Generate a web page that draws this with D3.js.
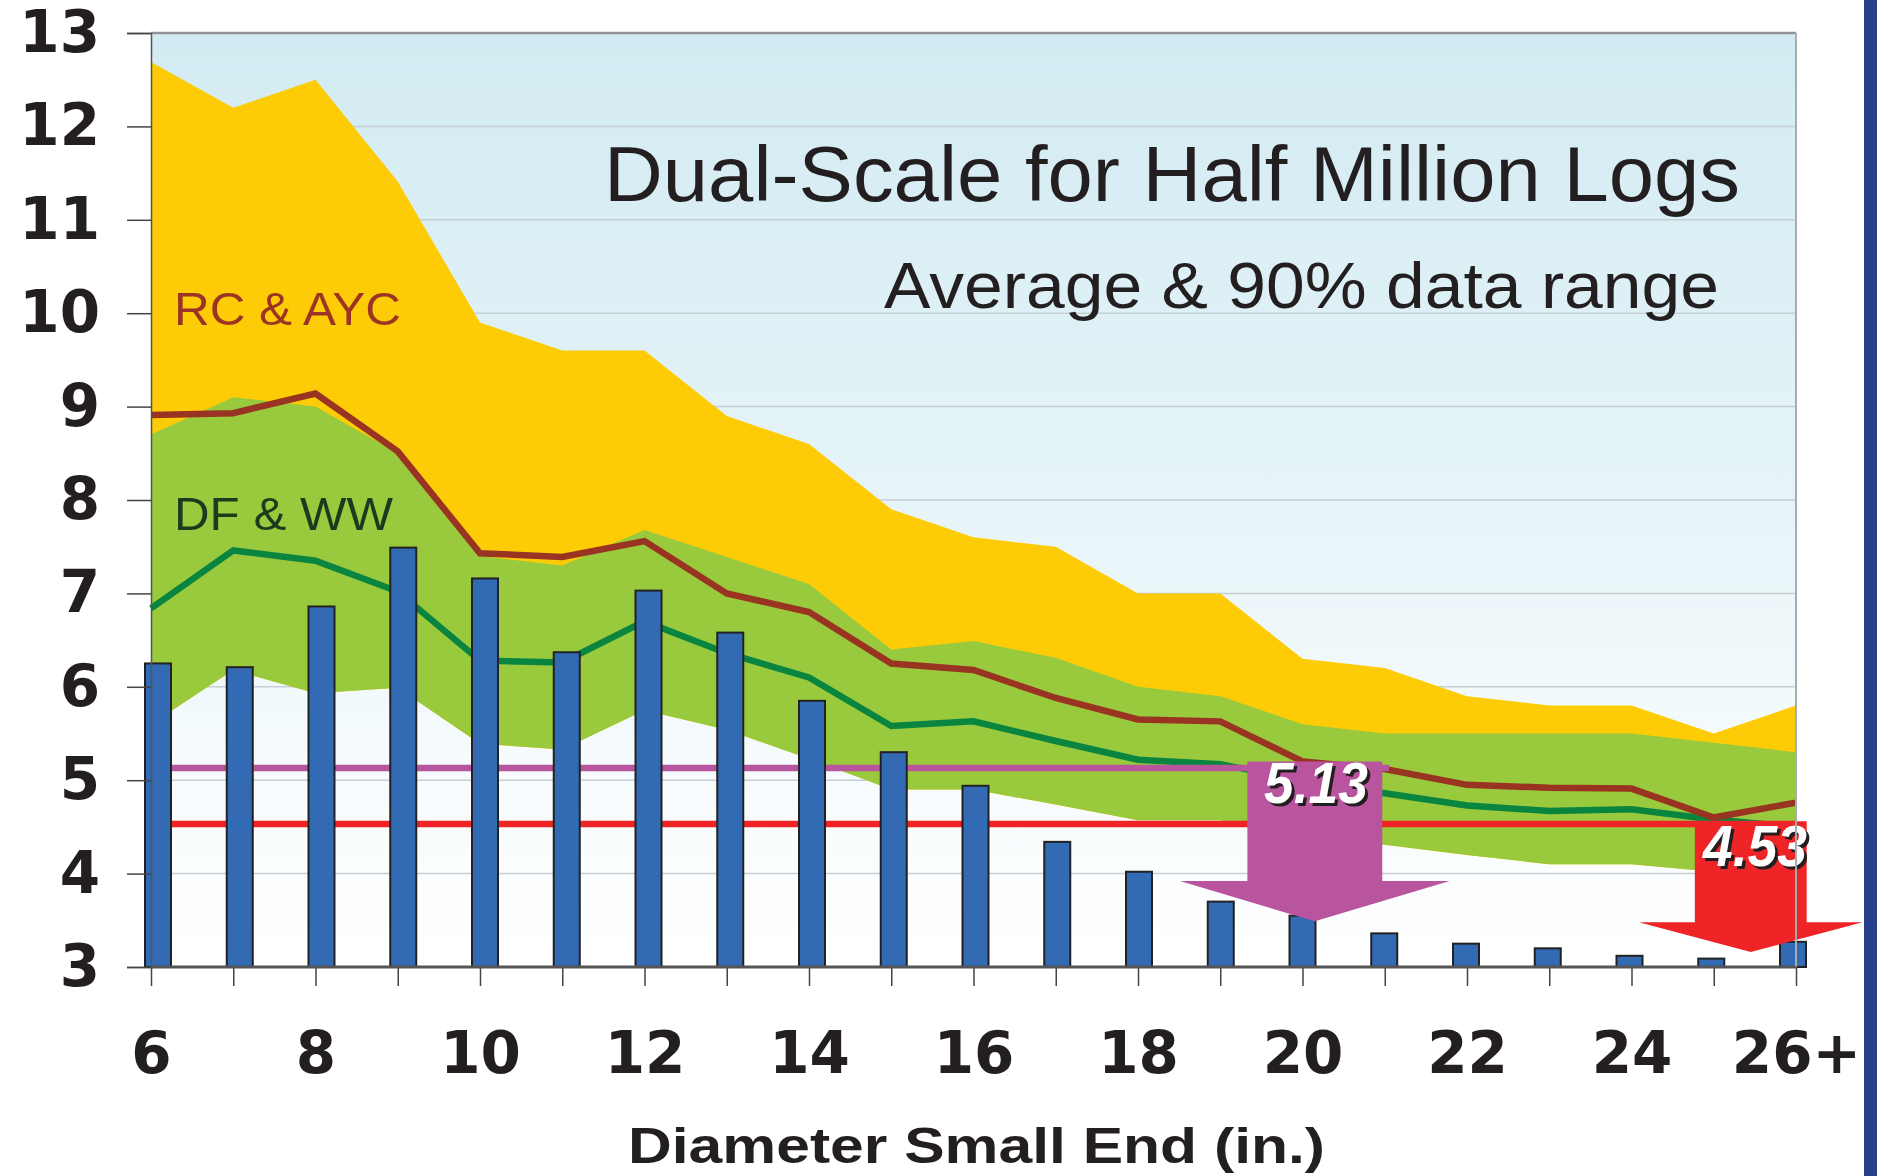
<!DOCTYPE html>
<html>
<head>
<meta charset="utf-8">
<script src="https://cdn.jsdelivr.net/npm/d3@7"></script>
<style>
body { margin: 0; background: #fff; }
svg { display: block; }
</style>
</head>
<body>
<script>
// diameter classes (small end, inches)
var categories = ["6","7","8","9","10","11","12","13","14","15","16","17","18","19","20","21","22","23","24","25","26+"];
var xTickLabels = ["6","8","10","12","14","16","18","20","22","24","26+"];
var yTicks = [3,4,5,6,7,8,9,10,11,12,13];

// log counts (bars)
var logCounts = [6.25,6.21,6.86,7.49,7.16,6.37,7.03,6.58,5.85,5.3,4.94,4.34,4.02,3.7,3.55,3.36,3.25,3.2,3.12,3.09,3.27];

// RC & AYC : average and top of 90% range
var rcAvg  = [8.91,8.93,9.14,8.52,7.43,7.39,7.56,7.0,6.8,6.25,6.18,5.88,5.65,5.63,5.2,5.12,4.95,4.92,4.91,4.6,4.76];
var rcHigh = [12.69,12.2,12.5,11.41,9.9,9.6,9.6,8.9,8.6,7.9,7.6,7.5,7.0,7.0,6.3,6.2,5.9,5.8,5.8,5.5,5.8];

// DF & WW : average and 90% range
var dfAvg  = [6.84,7.46,7.35,7.02,6.28,6.26,6.7,6.36,6.1,5.58,5.63,5.42,5.22,5.17,5.0,4.86,4.73,4.67,4.69,4.58,4.5];
var dfHigh = [8.7,9.1,9.0,8.5,7.4,7.3,7.68,7.39,7.1,6.4,6.49,6.31,6.0,5.9,5.6,5.5,5.5,5.5,5.5,5.4,5.3];
var dfLow  = [5.6,6.18,5.93,5.99,5.39,5.33,5.75,5.54,5.23,4.9,4.9,4.74,4.57,4.57,4.4,4.31,4.2,4.1,4.1,4.02,4.0];

// the two scale averages
var scaleLevels = [5.13, 4.53];
var levelLabels = ["5.13", "4.53"];

var W = 1877, H = 1176;
var plotL = 151, plotR = 1796, plotT = 33, plotB = 967;

var svg = d3.select("body").append("svg").attr("width", W).attr("height", H);

var x = d3.scalePoint().domain(categories).range([plotL, plotR]).padding(0);
var xi = d3.scaleLinear().domain([0, categories.length - 1]).range([plotL, plotR]);
var xBar = d3.scalePoint().domain(categories).range([158, 1793]).padding(0);
var y = d3.scaleLinear().domain([3, 13]).range([plotB, plotT]);

// background gradient
var defs = svg.append("defs");
var grad = defs.append("linearGradient").attr("id", "bg").attr("x1", 0).attr("y1", 0).attr("x2", 0).attr("y2", 1);
grad.append("stop").attr("offset", "0%").attr("stop-color", "#d2ebf2");
grad.append("stop").attr("offset", "50%").attr("stop-color", "#e6f4f8");
grad.append("stop").attr("offset", "78%").attr("stop-color", "#f6fbfd");
grad.append("stop").attr("offset", "100%").attr("stop-color", "#ffffff");

svg.append("rect")
      .attr("x", plotL).attr("y", plotT)
      .attr("width", plotR - plotL).attr("height", plotB - plotT)
      .attr("fill", "url(#bg)");

// gridlines
svg.selectAll("line.grid")
      .data(yTicks.slice(1, -1))
      .enter().append("line")
      .attr("class", "grid")
      .attr("x1", plotL).attr("x2", plotR)
      .attr("y1", function(d){ return y(d); })
      .attr("y2", function(d){ return y(d); })
      .attr("stroke", "#c6cfd4")
      .attr("stroke-width", 1.5);

// bands
var rcArea = d3.area()
      .x(function(d, i){ return x(categories[i]); })
      .y0(function(d, i){ return y(dfLow[i]); })
      .y1(function(d){ return y(d); });
svg.append("path").datum(rcHigh).attr("d", rcArea).attr("fill", "#fdcc07");

var dfArea = d3.area()
      .x(function(d, i){ return x(categories[i]); })
      .y0(function(d, i){ return y(dfLow[i]); })
      .y1(function(d){ return y(d); });
svg.append("path").datum(dfHigh).attr("d", dfArea).attr("fill", "#99c93c");

// average lines
var avgLine = d3.line()
      .x(function(d, i){ return x(categories[i]); })
      .y(function(d){ return y(d); });

svg.append("path").datum(dfAvg).attr("d", avgLine)
      .attr("fill", "none").attr("stroke", "#0a8540").attr("stroke-width", 6.5);
svg.append("path").datum(rcAvg).attr("d", avgLine)
      .attr("fill", "none").attr("stroke", "#993322").attr("stroke-width", 6.5);

// scale average lines
svg.append("line")
      .attr("x1", plotL).attr("x2", xi(15.05))
      .attr("y1", y(scaleLevels[0])).attr("y2", y(scaleLevels[0]))
      .attr("stroke", "#b9559f").attr("stroke-width", 6.5);
svg.append("line")
      .attr("x1", plotL).attr("x2", plotR)
      .attr("y1", y(scaleLevels[1])).attr("y2", y(scaleLevels[1]))
      .attr("stroke", "#ee2426").attr("stroke-width", 6.5);

// bars
svg.selectAll("rect.bar")
      .data(logCounts)
      .enter().append("rect")
      .attr("class", "bar")
      .attr("x", function(d, i){ return xBar(categories[i]) - 13; })
      .attr("y", function(d){ return y(d); })
      .attr("width", 26)
      .attr("height", function(d){ return plotB - y(d); })
      .attr("fill", "#336ab4")
      .attr("stroke", "#222")
      .attr("stroke-width", 2);

// arrows
function arrow(c, shaftHalf, headHalf, topV, baseV, tipV, color) {
      var p = d3.path();
      p.moveTo(xi(c - shaftHalf), y(topV));
      p.lineTo(xi(c + shaftHalf), y(topV));
      p.lineTo(xi(c + shaftHalf), y(baseV));
      p.lineTo(xi(c + headHalf), y(baseV));
      p.lineTo(xi(c), y(tipV));
      p.lineTo(xi(c - headHalf), y(baseV));
      p.lineTo(xi(c - shaftHalf), y(baseV));
      p.closePath();
      svg.append("path").attr("d", p.toString()).attr("fill", color);
}
arrow(14.15, 0.82, 1.64, 5.2, 3.92, 3.49, "#b9559f");
arrow(19.45, 0.68, 1.36, scaleLevels[1] + 0.03, 3.48, 3.16, "#ee2426");

// value labels
var labelPos = [[1264, 803], [1703, 866]];
levelLabels.forEach(function(t, i){
      [["#231f20", 3], ["#fff", 0]].forEach(function(s){
            svg.append("text")
                  .text(t)
                  .attr("x", labelPos[i][0] + s[1])
                  .attr("y", labelPos[i][1] + s[1])
                  .attr("textLength", 104)
                  .attr("lengthAdjust", "spacingAndGlyphs")
                  .attr("font-family", "Liberation Sans, Arial, sans-serif")
                  .attr("font-weight", "bold")
                  .attr("font-style", "italic")
                  .attr("font-size", 57)
                  .attr("fill", s[0]);
      });
});

// frame
svg.append("line").attr("x1", plotL).attr("x2", plotR).attr("y1", plotT).attr("y2", plotT)
      .attr("stroke", "#8f9396").attr("stroke-width", 2.5);
svg.append("line").attr("x1", plotR).attr("x2", plotR).attr("y1", plotT).attr("y2", plotB)
      .attr("stroke", "#a7acb0").attr("stroke-width", 2);

// axes
var yAxis = svg.append("g")
      .attr("transform", "translate(" + plotL + ",0)")
      .call(d3.axisLeft(y).tickValues(yTicks).tickSize(24).tickPadding(27).tickFormat(d3.format("d")));
yAxis.select(".domain").attr("stroke", "#555").attr("stroke-width", 1.5);
yAxis.selectAll(".tick line").attr("stroke", "#444").attr("stroke-width", 1.5);
yAxis.selectAll("text")
      .attr("font-family", "DejaVu Sans, sans-serif")
      .attr("font-weight", "bold")
      .attr("font-size", 58)
      .attr("fill", "#231f20");

var xAxis = svg.append("g")
      .attr("transform", "translate(0," + plotB + ")")
      .call(d3.axisBottom(x).tickSize(19).tickPadding(46)
            .tickFormat(function(d){ return xTickLabels.indexOf(d) >= 0 ? d : ""; }));
xAxis.select(".domain").remove();
xAxis.selectAll(".tick line").attr("stroke", "#444").attr("stroke-width", 1.5);
xAxis.selectAll("text")
      .attr("font-family", "DejaVu Sans, sans-serif")
      .attr("font-weight", "bold")
      .attr("font-size", 58)
      .attr("fill", "#231f20");

svg.append("line").attr("x1", plotL).attr("x2", plotR).attr("y1", plotB).attr("y2", plotB)
      .attr("stroke", "#555").attr("stroke-width", 3);

// titles and labels
function label(t, xx, yy, len, size, weight, color) {
      svg.append("text")
            .text(t)
            .attr("x", xx).attr("y", yy)
            .attr("textLength", len)
            .attr("lengthAdjust", "spacingAndGlyphs")
            .attr("font-family", "Liberation Sans Narrow, Liberation Sans, Arial, sans-serif")
            .attr("font-weight", weight)
            .attr("font-size", size)
            .attr("fill", color);
}
label("Dual-Scale for Half Million Logs", 604, 201, 1136, 78, "normal", "#231f20");
label("Average & 90% data range", 884, 308, 835, 64, "normal", "#231f20");
label("RC & AYC", 174, 325, 227, 47, "normal", "#9b3423");
label("DF & WW", 174, 530, 219, 47, "normal", "#1b3b1e");
label("Diameter Small End (in.)", 628, 1163, 697, 50, "bold", "#231f20");

// right edge band
svg.append("rect").attr("x", 1864).attr("y", 0).attr("width", W - 1864).attr("height", H)
      .attr("fill", "#27408b");
</script>
</body>
</html>
